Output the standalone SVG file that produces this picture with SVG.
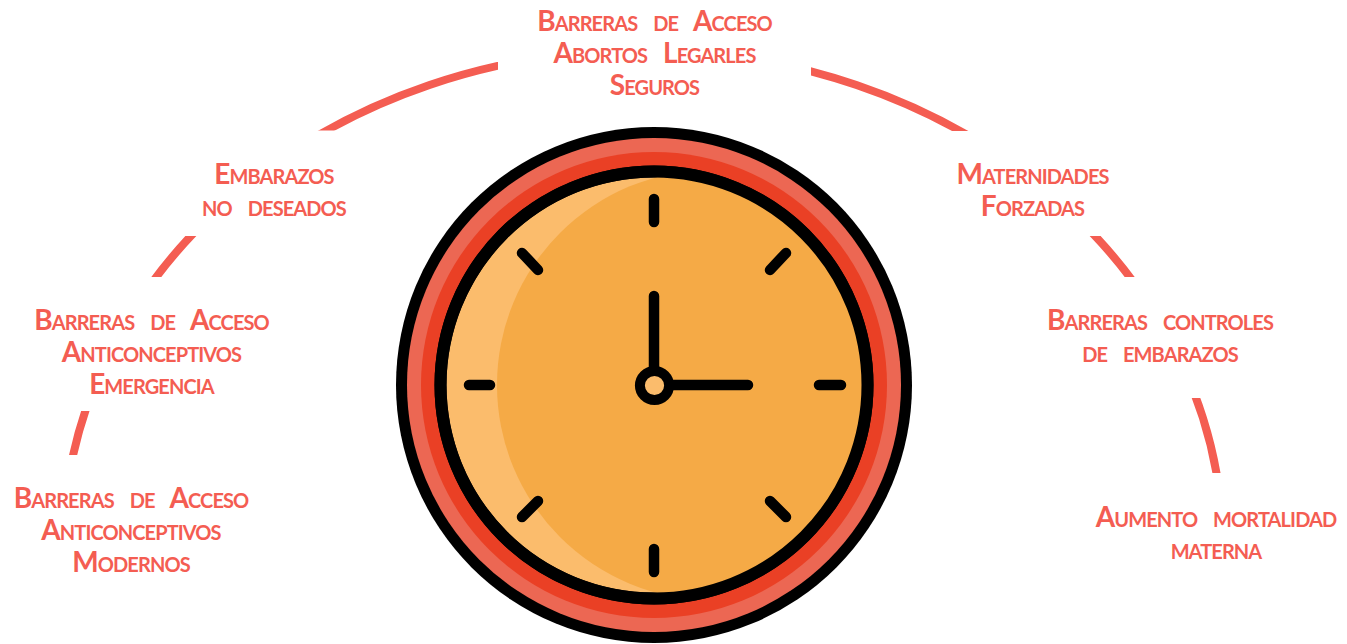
<svg xmlns="http://www.w3.org/2000/svg" width="1347" height="644" viewBox="0 0 1347 644">
<style>
.l{font-family:"Lato","Open Sans",sans-serif;font-size:28px;font-variant:small-caps;font-weight:700;fill:#f45d52;text-anchor:middle;word-spacing:10px;letter-spacing:-.9px}
.arc{fill:none;stroke:#f45d52;stroke-width:8}
.t{stroke:#000;stroke-width:10.500;stroke-linecap:round;fill:none}
</style>
<defs>
<clipPath id="arcs">
<rect x="300" y="40" width="198" height="90.500"/>
<rect x="811" y="40" width="180" height="91"/>
<rect x="1060" y="236" width="100" height="41"/>
<rect x="1170" y="398" width="70" height="75"/>
<rect x="130" y="236" width="90" height="41"/>
<rect x="50" y="411" width="60" height="44"/>
</clipPath>
<clipPath id="face"><circle cx="654" cy="385" r="212"/></clipPath>
</defs>
<g id="connectors"><ellipse class="arc" cx="643" cy="548" rx="580" ry="498" clip-path="url(#arcs)"/></g>
<g id="clock">
<circle cx="654" cy="385" r="258" fill="#000"/>
<circle cx="654" cy="385" r="247" fill="#ec6753"/>
<circle cx="654" cy="385" r="233" fill="#ea4025"/>
<circle cx="654" cy="385" r="219.500" fill="#000"/>
<circle cx="654" cy="385" r="207.500" fill="#fbbc6c"/>
<circle cx="712" cy="385" r="215" fill="#f5aa46" clip-path="url(#face)"/>
<circle cx="654" cy="385" r="213.500" fill="none" stroke="#000" stroke-width="12"/>
<path class="t" d="M654 199V222M654 549V572M469 385H490M819 385H841M522 253L538 270M786 253L770 270M522 517L538 501M786 517L770 501"/>
<path class="t" d="M654 296V380M660 385H748"/>
<circle cx="654.500" cy="385.500" r="14.600" fill="#fbbc6c" stroke="#000" stroke-width="10"/>
</g>
<g id="n-abortos"><text class="l" x="654.500" y="31">Barreras de Acceso</text><text class="l" x="654.500" y="63">Abortos Legarles</text><text class="l" x="654.500" y="95">Seguros</text></g>
<g id="n-embarazos"><text class="l" x="274" y="184">Embarazos</text><text class="l" x="274" y="216">no deseados</text></g>
<g id="n-emergencia"><text class="l" x="151.500" y="330">Barreras de Acceso</text><text class="l" x="151.500" y="362">Anticonceptivos</text><text class="l" x="151.500" y="394">Emergencia</text></g>
<g id="n-modernos"><text class="l" x="131" y="508">Barreras de Acceso</text><text class="l" x="131" y="540">Anticonceptivos</text><text class="l" x="131" y="572">Modernos</text></g>
<g id="n-maternidades"><text class="l" x="1032.500" y="184">Maternidades</text><text class="l" x="1032.500" y="216">Forzadas</text></g>
<g id="n-controles"><text class="l" x="1160" y="330">Barreras controles</text><text class="l" x="1160" y="362">de embarazos</text></g>
<g id="n-mortalidad"><text class="l" x="1216" y="527">Aumento mortalidad</text><text class="l" x="1216" y="559">materna</text></g>
</svg>
